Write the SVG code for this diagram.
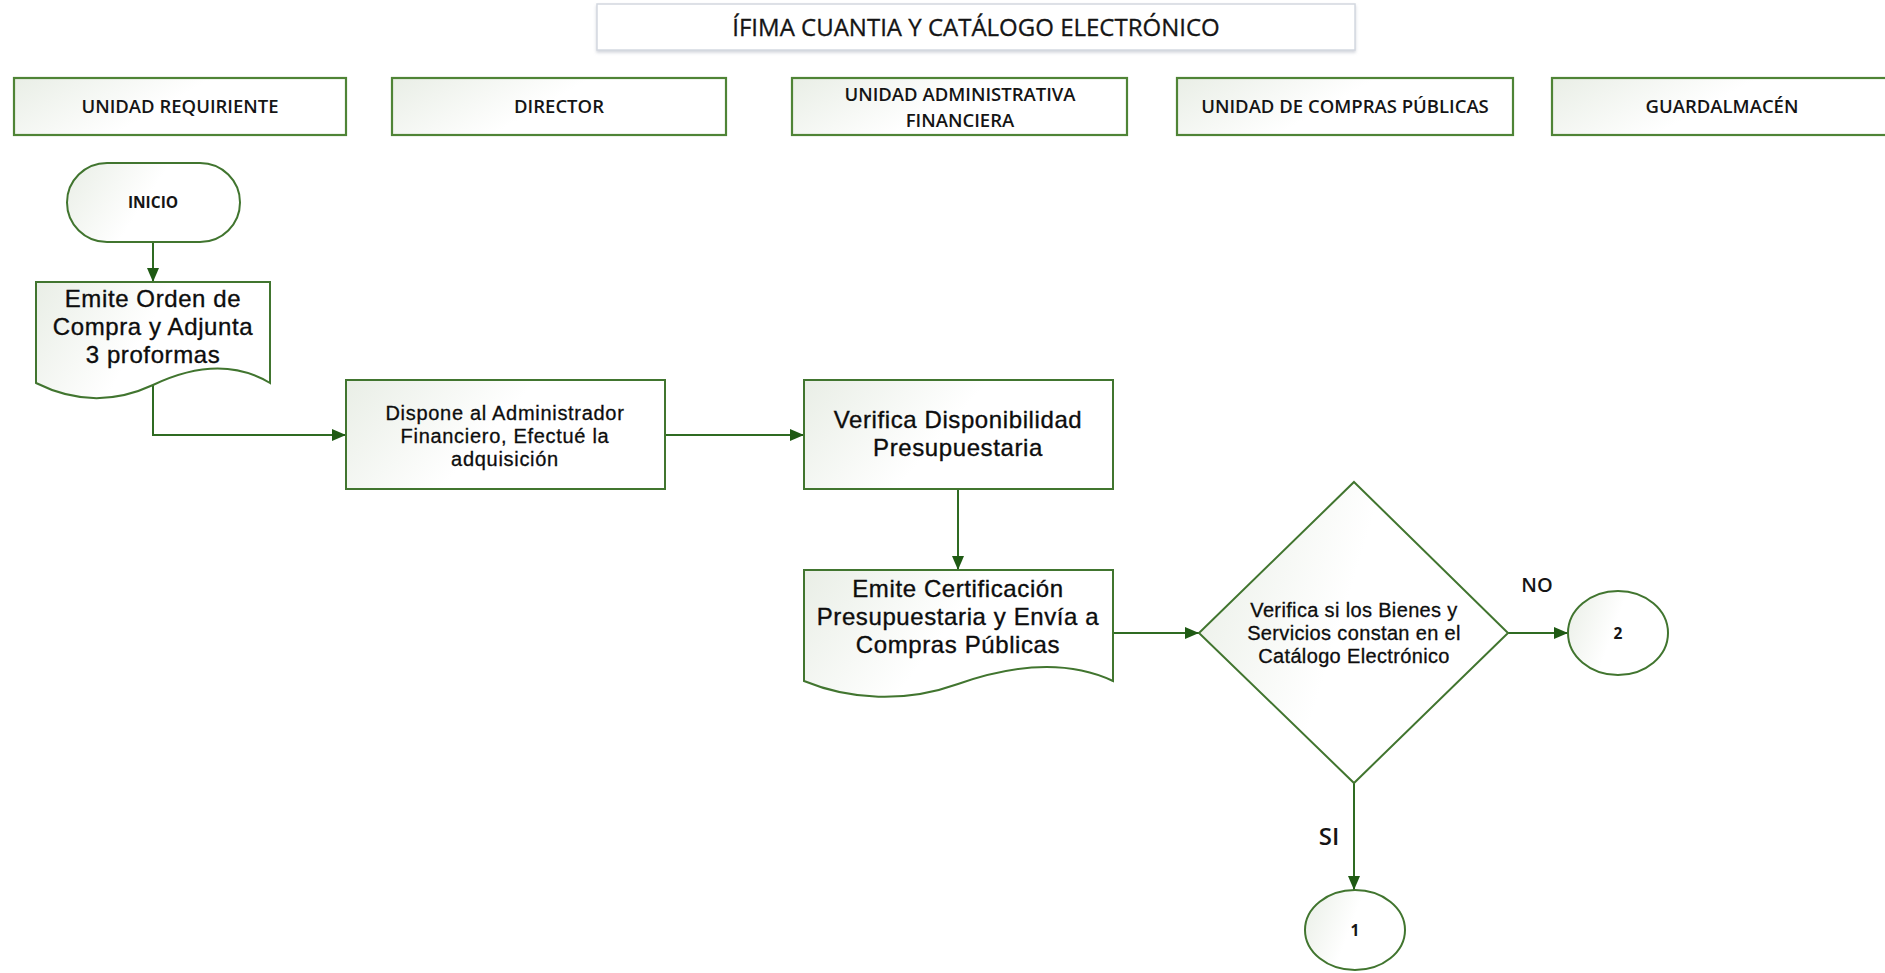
<svg xmlns="http://www.w3.org/2000/svg" width="1885" height="973" viewBox="0 0 1885 973">
  <style>
    .node { stroke: #41752f; stroke-width: 2; fill: url(#soft); }
    .lane { stroke: #4f8436; stroke-width: 2.2; fill: url(#soft); }
    .title-box { stroke: #d3d8e0; stroke-width: 1.5; fill: #ffffff; }
    .edge { stroke: #2f6b22; stroke-width: 2; fill: none; }
    text { font-family: "Open Sans", "Liberation Sans", sans-serif; fill: #151515; text-anchor: middle; }
    .lane-label { font-size: 18.5px; font-weight: 600; }
    .title { font-size: 24px; stroke: #151515; stroke-width: 0.3px; }
    .big { font-family: "Liberation Sans", Arial, sans-serif; font-size: 24px; letter-spacing: 0.6px; fill: #0d0d0d; stroke: #0d0d0d; stroke-width: 0.35px; }
    .mid { font-family: "Liberation Sans", Arial, sans-serif; font-size: 20px; letter-spacing: 0.7px; fill: #0d0d0d; stroke: #0d0d0d; stroke-width: 0.3px; }
    .dec { font-family: "Liberation Sans", Arial, sans-serif; font-size: 20px; letter-spacing: 0.35px; fill: #0d0d0d; stroke: #0d0d0d; stroke-width: 0.3px; }
    .small { font-size: 15.5px; font-weight: 700; }
    .branch { font-weight: 600; }
  </style>
  <defs>
    <linearGradient id="soft" x1="0" y1="0" x2="1" y2="0.3">
      <stop offset="0" stop-color="#e9eee6"/>
      <stop offset="0.55" stop-color="#ffffff"/>
      <stop offset="1" stop-color="#ffffff"/>
    </linearGradient>
    <marker id="arrow" markerUnits="userSpaceOnUse" markerWidth="14" markerHeight="14" viewBox="0 0 14 14" refX="14" refY="7" orient="auto">
      <path d="M0,1 L14,7 L0,13 Z" fill="#1f5a14"/>
    </marker>
    <filter id="drop" x="-5%" y="-20%" width="110%" height="150%">
      <feDropShadow dx="0" dy="2" stdDeviation="1.5" flood-color="#c8ccd4" flood-opacity="0.8"/>
    </filter>
  </defs>

  <rect width="1885" height="973" fill="#ffffff"/>

  <!-- title banner -->
  <g id="title">
    <rect class="title-box" x="597" y="4" width="758" height="46" filter="url(#drop)"/>
    <text class="title" x="976" y="36">ÍFIMA CUANTIA Y CATÁLOGO ELECTRÓNICO</text>
  </g>

  <!-- swimlane headers -->
  <g id="lane-requiriente">
    <rect class="lane" x="14" y="78" width="332" height="57"/>
    <text class="lane-label" x="180" y="113">UNIDAD REQUIRIENTE</text>
  </g>
  <g id="lane-director">
    <rect class="lane" x="392" y="78" width="334" height="57"/>
    <text class="lane-label" x="559" y="113">DIRECTOR</text>
  </g>
  <g id="lane-financiera">
    <rect class="lane" x="792" y="78" width="335" height="57"/>
    <text class="lane-label" x="960" y="101">UNIDAD ADMINISTRATIVA</text>
    <text class="lane-label" x="960" y="127">FINANCIERA</text>
  </g>
  <g id="lane-compras">
    <rect class="lane" x="1177" y="78" width="336" height="57"/>
    <text class="lane-label" x="1345" y="113">UNIDAD DE COMPRAS PÚBLICAS</text>
  </g>
  <g id="lane-guardalmacen">
    <rect class="lane" x="1552" y="78" width="345" height="57"/>
    <text class="lane-label" x="1722" y="113">GUARDALMACÉN</text>
  </g>

  <!-- connectors -->
  <g id="connectors">
    <path class="edge" d="M153,242 V282" marker-end="url(#arrow)"/>
    <path class="edge" d="M153,385 V435 H346" marker-end="url(#arrow)"/>
    <path class="edge" d="M665,435 H804" marker-end="url(#arrow)"/>
    <path class="edge" d="M958,489 V570" marker-end="url(#arrow)"/>
    <path class="edge" d="M1113,633 H1199" marker-end="url(#arrow)"/>
    <path class="edge" d="M1508,633 H1568" marker-end="url(#arrow)"/>
    <path class="edge" d="M1354,783 V890" marker-end="url(#arrow)"/>
  </g>

  <!-- flow nodes -->
  <g id="inicio">
    <rect class="node" x="67" y="163" width="173" height="79" rx="40" ry="40"/>
    <text class="small" x="153" y="208">INICIO</text>
  </g>

  <g id="orden-compra">
    <path class="node" d="M36,282 H270 V383 C235,362 195,365 153,385 C110,405 70,400 36,383 Z"/>
    <text class="big" x="153" y="307">Emite Orden de</text>
    <text class="big" x="153" y="335">Compra y Adjunta</text>
    <text class="big" x="153" y="363">3 proformas</text>
  </g>

  <g id="dispone">
    <rect class="node" x="346" y="380" width="319" height="109"/>
    <text class="mid" x="505" y="420">Dispone al Administrador</text>
    <text class="mid" x="505" y="443">Financiero, Efectué la</text>
    <text class="mid" x="505" y="466">adquisición</text>
  </g>

  <g id="verifica-disponibilidad">
    <rect class="node" x="804" y="380" width="309" height="109"/>
    <text class="big" x="958" y="428">Verifica Disponibilidad</text>
    <text class="big" x="958" y="456">Presupuestaria</text>
  </g>

  <g id="certificacion">
    <path class="node" d="M804,570 H1113 V681 C1068,660 1015,664 958,684 C905,703 850,700 804,681 Z"/>
    <text class="big" x="958" y="597">Emite Certificación</text>
    <text class="big" x="958" y="625">Presupuestaria y Envía a</text>
    <text class="big" x="958" y="653">Compras Públicas</text>
  </g>

  <g id="decision-catalogo">
    <path class="node" d="M1354,482 L1508,633 L1354,783 L1199,633 Z"/>
    <text class="dec" x="1354" y="617">Verifica si los Bienes y</text>
    <text class="dec" x="1354" y="640">Servicios constan en el</text>
    <text class="dec" x="1354" y="663">Catálogo Electrónico</text>
  </g>

  <g id="label-no">
    <text class="branch" x="1537" y="592" font-size="20">NO</text>
  </g>
  <g id="label-si">
    <text class="branch" x="1329" y="845" font-size="24">SI</text>
  </g>

  <g id="conector-2">
    <ellipse class="node" cx="1618" cy="633" rx="50" ry="42"/>
    <text class="small" x="1618" y="639" font-size="14">2</text>
  </g>
  <g id="conector-1">
    <ellipse class="node" cx="1355" cy="930" rx="50" ry="40"/>
    <text class="small" x="1355" y="936" font-size="14">1</text>
  </g>
</svg>
